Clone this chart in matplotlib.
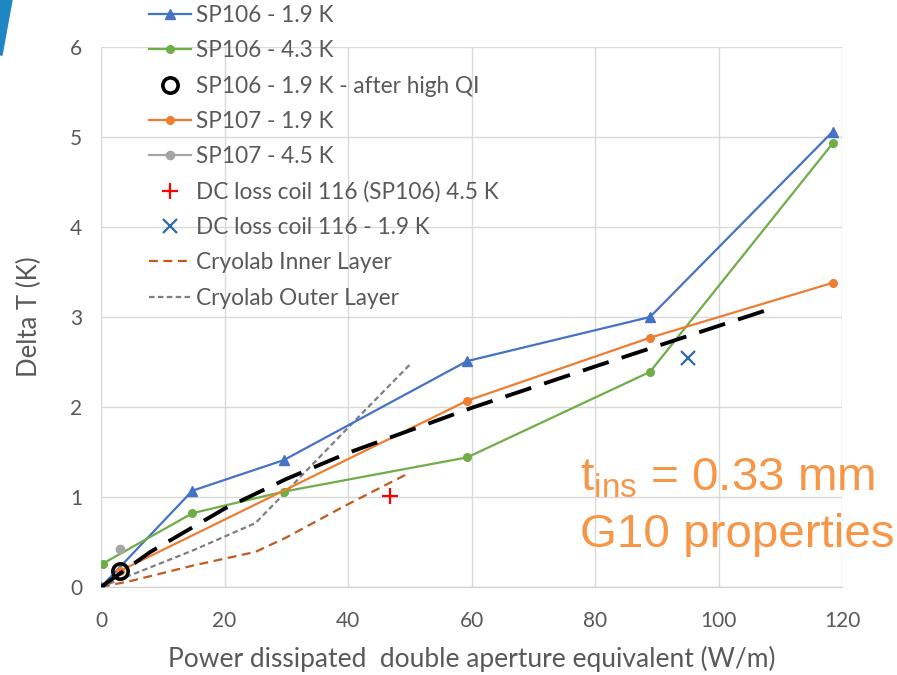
import matplotlib
matplotlib.use("Agg")
import matplotlib.pyplot as plt
from matplotlib.patches import Polygon

# Данные
sp106_19_x = [0, 14.8, 29.6, 59.3, 88.9, 118.5]
sp106_19_y = [0, 1.07, 1.41, 2.51, 3.0, 5.06]

sp106_43_x = [0.3, 14.8, 29.6, 59.3, 88.9, 118.5]
sp106_43_y = [0.26, 0.82, 1.06, 1.44, 2.39, 4.93]

qi_x = [3.1]
qi_y = [0.18]

sp107_19_x = [3.1, 59.3, 88.9, 118.5]
sp107_19_y = [0.18, 2.07, 2.77, 3.38]

sp107_45_x = [3.1]
sp107_45_y = [0.42]

dc_45_x = [46.8]
dc_45_y = [1.01]

dc_19_x = [95.0]
dc_19_y = [2.54]

inner_x = [0, 5, 15, 25, 30, 40, 50]
inner_y = [0, 0.07, 0.24, 0.39, 0.55, 0.92, 1.27]

outer_x = [0, 15, 25, 30, 40, 50]
outer_y = [0, 0.41, 0.71, 1.06, 1.77, 2.47]

fit_x = [0, 8, 20, 30, 40, 60, 80, 108.4]
fit_y = [0, 0.39, 0.87, 1.2, 1.49, 1.99, 2.45, 3.09]

xticks = [0, 20, 40, 60, 80, 100, 120]
yticks = [0, 1, 2, 3, 4, 5, 6]

txt = "#595959"
font = "Lato"

fig = plt.figure(figsize=(8.97, 6.75), dpi=100)
ax = fig.add_axes([101 / 897, 88 / 675, 741 / 897, 540 / 675])

l1, = ax.plot(sp106_19_x, sp106_19_y, color="#4472C4", lw=1.6, marker="^", ms=7, label="SP106 - 1.9 K", zorder=4)
l2, = ax.plot(sp106_43_x, sp106_43_y, color="#70AD47", lw=1.6, marker="o", ms=5.5, label="SP106 - 4.3 K", zorder=4)
l4, = ax.plot(sp107_19_x, sp107_19_y, color="#ED7D31", lw=1.6, marker="o", ms=5.5, label="SP107 - 1.9 K", zorder=4)
l5, = ax.plot(sp107_45_x, sp107_45_y, color="#A5A5A5", lw=1.6, marker="o", ms=6, label="SP107 - 4.5 K", zorder=4)
l3, = ax.plot(qi_x, qi_y, ls="none", marker="o", ms=11, mfc="none", mec="black", mew=2.6,
              label="SP106 - 1.9 K - after high QI", zorder=6)
l6, = ax.plot(dc_45_x, dc_45_y, ls="none", marker="+", ms=11, mew=1.6, color="#FF0000",
              label="DC loss coil 116 (SP106) 4.5 K", zorder=5)
l7, = ax.plot(dc_19_x, dc_19_y, ls="none", marker="x", ms=10, mew=1.6, color="#2E68A8",
              label="DC loss coil 116 - 1.9 K", zorder=5)
l8, = ax.plot(inner_x, inner_y, color="#C05A1E", lw=1.6, dashes=(4, 2.5), label="Cryolab Inner Layer", zorder=3)
l9, = ax.plot(outer_x, outer_y, color="#7F7F7F", lw=1.6, dashes=(2.5, 1.5), label="Cryolab Outer Layer", zorder=3)
ax.plot(fit_x, fit_y, color="black", lw=2.8, dashes=(7, 3.5), zorder=5)

ax.set_xlim(0, 120)
ax.set_ylim(0, 6)
ax.set_xticks(xticks)
ax.set_yticks(yticks)
ax.grid(True, color="#D9D9D9", lw=1)
ax.set_axisbelow(True)
for s in ["top", "right", "left"]:
    ax.spines[s].set_visible(False)
ax.spines["bottom"].set_color("#D0D0D0")
ax.tick_params(length=0, colors=txt, labelsize=15)
ax.tick_params(axis="x", pad=17)
ax.tick_params(axis="y", pad=13.5)
for lab in ax.get_xticklabels() + ax.get_yticklabels():
    lab.set_fontfamily(font)

ax.set_xlabel("Power dissipated  double aperture equivalent (W/m)", color=txt, fontsize=19,
              fontfamily=font, labelpad=11)
ax.set_ylabel("Delta T (K)", color=txt, fontsize=18.5, fontfamily=font, labelpad=20)

leg = fig.legend(handles=[l1, l2, l3, l4, l5, l6, l7, l8, l9],
                 loc="upper left", bbox_to_anchor=(149 / 897, 1 - 5 / 675),
                 frameon=False, prop={"family": font, "size": 16.3},
                 handlelength=1.86, handletextpad=0.2, labelspacing=0.63, borderaxespad=0, borderpad=0)
for t in leg.get_texts():
    t.set_color(txt)

# Подпись справа
orange = "#F79646"
fig.text(580 / 897, 1 - 490 / 675, r"t$_{\mathregular{ins}}$ = 0.33 mm", color=orange,
         fontsize=34.2, fontfamily="Liberation Sans", va="baseline")
fig.text(580 / 897, 1 - 547 / 675, "G10 properties", color=orange,
         fontsize=34.2, fontfamily="Liberation Sans", va="baseline")

# Синяя полоса слева сверху (фон слайда)
fig.patches.append(Polygon([(0, 1), (12 / 897, 1), (2 / 897, 1 - 55 / 675), (0, 1 - 55 / 675)],
                           closed=True, transform=fig.transFigure, color="#1F86C4", zorder=0))

fig.savefig("out.png", dpi=100)
